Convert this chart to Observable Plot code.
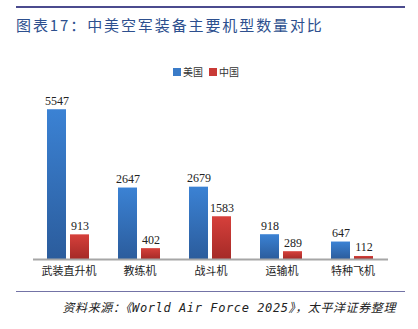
<!DOCTYPE html>
<html><head><meta charset="utf-8">
<script src="https://cdn.jsdelivr.net/npm/d3@7"></script>
<script src="https://cdn.jsdelivr.net/npm/@observablehq/plot@0.6"></script>
<style>
html,body{margin:0;padding:0;background:#fff;}
#wrap{position:relative;width:418px;height:329px;overflow:hidden;background:#fff;}
.abs{position:absolute;}
#topline{left:16px;top:6px;width:389px;height:2px;background:#4b4b8e;}
#title{left:16px;top:14px;font-family:"Noto Sans CJK SC",sans-serif;font-size:15px;letter-spacing:1.9px;color:#2d4f8e;white-space:nowrap;line-height:22px;}
#legend{left:0;top:65px;width:418px;text-align:center;font-family:"Noto Sans CJK SC",serif;font-size:10px;color:#333;line-height:14px;}
#legend span.sw{display:inline-block;width:8px;height:8px;margin-right:2px;vertical-align:-0px;}
#legend span.it{margin-right:6px;}
#chart{left:0;top:80px;}
#botline{left:16px;top:291px;width:389px;height:1px;background:#7373a6;}
#source{right:22px;top:300px;font-family:"DejaVu Sans Mono","Noto Sans CJK SC",monospace;font-style:italic;font-size:12px;letter-spacing:0.6px;color:#222;white-space:nowrap;line-height:16px;}
</style></head>
<body><div id="wrap">
<div id="topline" class="abs"></div>
<div id="title" class="abs">图表17：中美空军装备主要机型数量对比</div>
<div id="legend" class="abs"></div>
<div id="chart" class="abs"></div>
<div id="botline" class="abs"></div>
<div id="source" class="abs">资料来源：《World Air Force 2025》，太平洋证券整理</div>
</div>
<script>
const categories = ["武装直升机","教练机","战斗机","运输机","特种飞机"];
const seriesNames = ["美国","中国"];
const usValues = [5547,2647,2679,918,647];
const chinaValues = [913,402,1583,289,112];
const seriesColors = ["#3a7bc8","#c93a36"];

const data = [];
categories.forEach((c,i)=>{
  data.push({cat:c, series:seriesNames[0], value:usValues[i]});
  data.push({cat:c, series:seriesNames[1], value:chinaValues[i]});
});

// legend
const leg = document.getElementById("legend");
seriesNames.forEach((s,i)=>{
  leg.insertAdjacentHTML("beforeend", `<span class="sw" style="background:${seriesColors[i]}"></span><span class="it">${s}</span>`);
});

const defs = () => {
  const svgNS = "http://www.w3.org/2000/svg";
  const d = document.createElementNS(svgNS,"defs");
  d.innerHTML = `
  <linearGradient id="gBlue" x1="0" y1="0" x2="0" y2="1">
    <stop offset="0" stop-color="#3b82d4"/><stop offset="1" stop-color="#2b5c9c"/></linearGradient>
  <linearGradient id="gRed" x1="0" y1="0" x2="0" y2="1">
    <stop offset="0" stop-color="#d6403b"/><stop offset="1" stop-color="#a52a27"/></linearGradient>`;
  return d;
};

const chart = Plot.plot({
  width: 418,
  height: 200,
  marginLeft: 31,
  marginRight: 28,
  marginTop: 17,
  marginBottom: 21,
  fx: {domain: categories, padding: 0, label: null, axis: null},
  x: {domain: seriesNames, paddingInner: 0.1667, paddingOuter: 0.58, axis: null},
  y: {domain: [0, 6000], axis: null},
  style: {fontFamily: "Liberation Serif, serif", fontSize: "12px", color: "#222", background: "transparent"},
  marks: [
    defs,
    Plot.barY(data.filter(d=>d.series===seriesNames[0]), {fx:"cat", x:"series", y:"value", fill:"url(#gBlue)"}),
    Plot.barY(data.filter(d=>d.series===seriesNames[1]), {fx:"cat", x:"series", y:"value", fill:"url(#gRed)"}),
    Plot.ruleY([0], {stroke:"#a6a6a6", strokeWidth:2}),
    Plot.text(data, {fx:"cat", x:"series", y:"value", text: d=>String(d.value), lineAnchor:"bottom", dy:-5, fill:"#222", fontSize:12}),
    Plot.axisFx({anchor:"bottom", tickSize:0, tickPadding:8, fontSize:11, fontFamily:"Noto Sans CJK SC, sans-serif", label:null, fill:"#222"})
  ]
});
document.getElementById("chart").appendChild(chart);
</script>
</body></html>
